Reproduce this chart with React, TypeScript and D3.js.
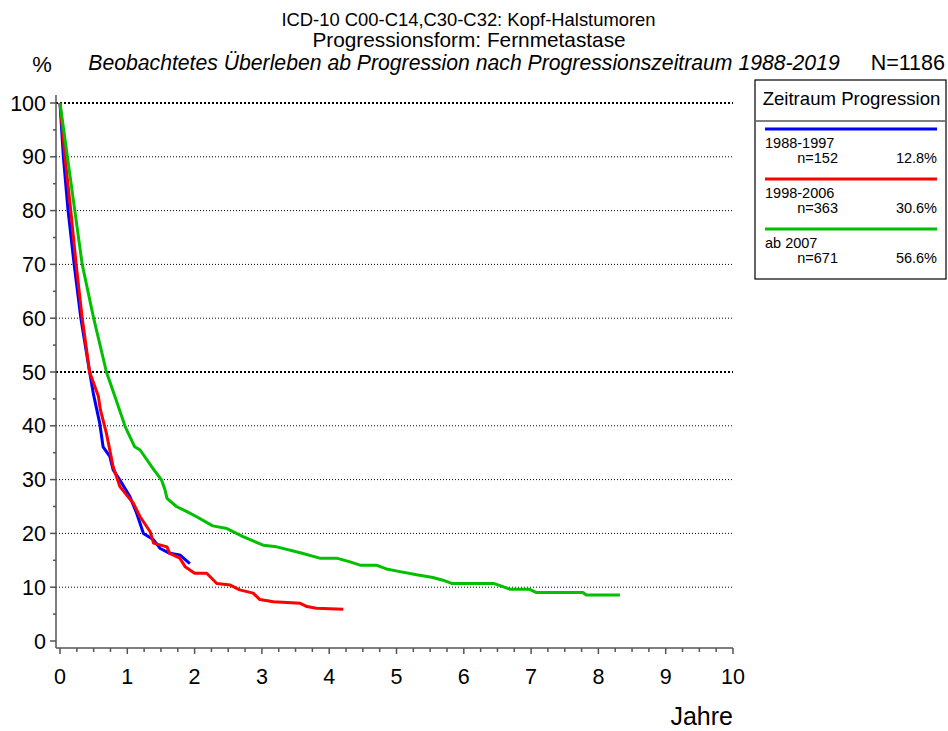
import React from "react";
import * as d3 from "d3";

const titleLines = ["ICD-10 C00-C14,C30-C32: Kopf-Halstumoren", "Progressionsform: Fernmetastase"];
const subtitle = "Beobachtetes Überleben ab Progression nach Progressionszeitraum 1988-2019";
const totalN = "N=1186";
const xTicks = [0, 1, 2, 3, 4, 5, 6, 7, 8, 9, 10];
const yTicks = [0, 10, 20, 30, 40, 50, 60, 70, 80, 90, 100];

const seriesNames = ["1988-1997", "1998-2006", "ab 2007"];
const seriesN = ["n=152", "n=363", "n=671"];
const seriesPct = ["12.8%", "30.6%", "56.6%"];
const seriesColors = ["#0000ff", "#ff0000", "#00c000"];

const blueT = [0, 0.05, 0.12, 0.21, 0.31, 0.44, 0.5, 0.59, 0.64, 0.74, 0.79, 0.89, 1.04, 1.14, 1.24, 1.39, 1.49, 1.63, 1.78, 1.93];
const blueS = [100, 90, 80, 70, 60, 50, 45.7, 40.5, 36.1, 34.3, 31.8, 29.9, 26.8, 23.7, 20.0, 18.8, 17.2, 16.3, 16.0, 14.4];

const redT = [0, 0.074, 0.16, 0.24, 0.33, 0.44, 0.57, 0.6, 0.69, 0.79, 0.89, 1.09, 1.19, 1.34, 1.39, 1.59, 1.63, 1.78, 1.86, 2.0, 2.18, 2.33, 2.53, 2.67, 2.87, 2.97, 3.17, 3.57, 3.67, 3.81, 4.21];
const redS = [100, 90, 80, 70, 60, 50, 45.5, 43.0, 38.6, 32.4, 28.7, 25.6, 23.1, 20.3, 18.2, 17.5, 16.3, 15.4, 13.8, 12.6, 12.6, 10.7, 10.4, 9.5, 8.9, 7.7, 7.3, 7.0, 6.4, 6.1, 5.9];

const greenT = [0, 0.11, 0.22, 0.33, 0.5, 0.69, 0.82, 0.97, 1.11, 1.19, 1.38, 1.51, 1.56, 1.59, 1.73, 1.88, 2.03, 2.27, 2.48, 2.72, 3.02, 3.22, 3.57, 3.86, 4.11, 4.31, 4.46, 4.7, 4.85, 5.05, 5.3, 5.54, 5.69, 5.82, 6.44, 6.54, 6.69, 6.98, 7.08, 7.77, 7.82, 8.32];
const greenS = [100, 90, 80, 70, 60, 50, 45.3, 39.8, 36.1, 35.5, 32.1, 29.9, 28.1, 26.5, 25.0, 24.1, 23.1, 21.4, 20.9, 19.4, 17.8, 17.5, 16.4, 15.4, 15.4, 14.7, 14.1, 14.1, 13.4, 12.9, 12.3, 11.8, 11.3, 10.7, 10.7, 10.3, 9.6, 9.6, 9.0, 9.0, 8.55, 8.55];

const seriesT = [blueT, redT, greenT];
const seriesS = [blueS, redS, greenS];

const FONT = "'Liberation Sans', Arial, sans-serif";

export default function App() {
  const x = d3.scaleLinear().domain([0, 10]).range([60, 733]);
  const y = d3.scaleLinear().domain([0, 100]).range([641, 103]);
  const axisX = 56;
  const axisY = 648;
  const line = d3
    .line<[number, number]>()
    .x((d) => x(d[0]))
    .y((d) => y(d[1]));

  const minorX = d3.range(0, 10.001, 0.25);
  const minorY = d3.range(5, 100, 10);

  const legX = 755;
  const legY = 80;
  const legW = 191;
  const legH = 199;

  return (
    <svg
      width={948}
      height={731}
      style={{ position: "absolute", left: 0, top: 0, background: "#fff" }}
      fontFamily={FONT}
    >
      <rect x={0} y={0} width={948} height={731} fill="#fff" />
      <text x={468.5} y={26} textAnchor="middle" fontSize={18.4}>{titleLines[0]}</text>
      <text x={469} y={47} textAnchor="middle" fontSize={20.8}>{titleLines[1]}</text>
      <text x={42} y={72} textAnchor="middle" fontSize={22}>%</text>
      <text x={464} y={69.5} textAnchor="middle" fontSize={21.2} fontStyle="italic">{subtitle}</text>
      <text x={945} y={69.5} textAnchor="end" fontSize={21.5}>{totalN}</text>

      {/* grid */}
      {yTicks.filter((v) => v > 0).map((v) => (
        <line
          key={"g" + v}
          x1={axisX}
          x2={733}
          y1={y(v)}
          y2={y(v)}
          stroke="#000"
          strokeWidth={v === 50 || v === 100 ? 2 : 1}
          strokeDasharray={v === 50 || v === 100 ? "2 2" : "1 2"}
        />
      ))}

      {/* y axis */}
      <line x1={axisX} x2={axisX} y1={95} y2={axisY} stroke="#555" strokeWidth={1.5} />
      {yTicks.map((v) => (
        <g key={"yt" + v}>
          <line x1={axisX - 6} x2={axisX} y1={y(v)} y2={y(v)} stroke="#555" strokeWidth={1.5} />
          <text x={46} y={y(v) + 7.5} textAnchor="end" fontSize={21.5}>{v}</text>
        </g>
      ))}
      {minorY.map((v) => (
        <line key={"ym" + v} x1={axisX - 3} x2={axisX} y1={y(v)} y2={y(v)} stroke="#555" strokeWidth={1.5} />
      ))}

      {/* x axis */}
      <line x1={axisX} x2={733} y1={axisY} y2={axisY} stroke="#555" strokeWidth={1.5} />
      {minorX.map((v) => (
        <line
          key={"xm" + v}
          x1={x(v)}
          x2={x(v)}
          y1={axisY}
          y2={axisY + (Math.abs(v - Math.round(v)) < 1e-6 ? 6 : 4)}
          stroke="#555"
          strokeWidth={1.5}
        />
      ))}
      {xTicks.map((v) => (
        <text key={"xt" + v} x={x(v)} y={684} textAnchor="middle" fontSize={21.5}>{v}</text>
      ))}
      <text x={733} y={725} textAnchor="end" fontSize={25}>Jahre</text>

      {/* curves */}
      {seriesT.map((ts, i) => (
        <path
          key={"s" + i}
          d={line(ts.map((t, j) => [t, seriesS[i][j]] as [number, number])) || ""}
          fill="none"
          stroke={seriesColors[i]}
          strokeWidth={3}
          strokeLinejoin="round"
        />
      ))}

      {/* legend */}
      <rect x={legX} y={legY} width={legW} height={legH} fill="#fff" stroke="#000" strokeWidth={1.2} />
      <line x1={legX + 1} x2={legX + legW - 1} y1={legY + 41} y2={legY + 41} stroke="#000" strokeWidth={1} />
      <text x={legX + legW / 2 + 1} y={legY + 24.5} textAnchor="middle" fontSize={18.6}>Zeitraum Progression</text>
      {seriesNames.map((name, i) => {
        const top = legY + 49 + i * 50;
        return (
          <g key={"l" + i}>
            <line x1={765} x2={937} y1={top} y2={top} stroke={seriesColors[i]} strokeWidth={3} />
            <text x={765} y={top + 19} fontSize={14.5}>{name}</text>
            <text x={838} y={top + 34} textAnchor="end" fontSize={14.5}>{seriesN[i]}</text>
            <text x={937} y={top + 34} textAnchor="end" fontSize={14.5}>{seriesPct[i]}</text>
          </g>
        );
      })}
    </svg>
  );
}
